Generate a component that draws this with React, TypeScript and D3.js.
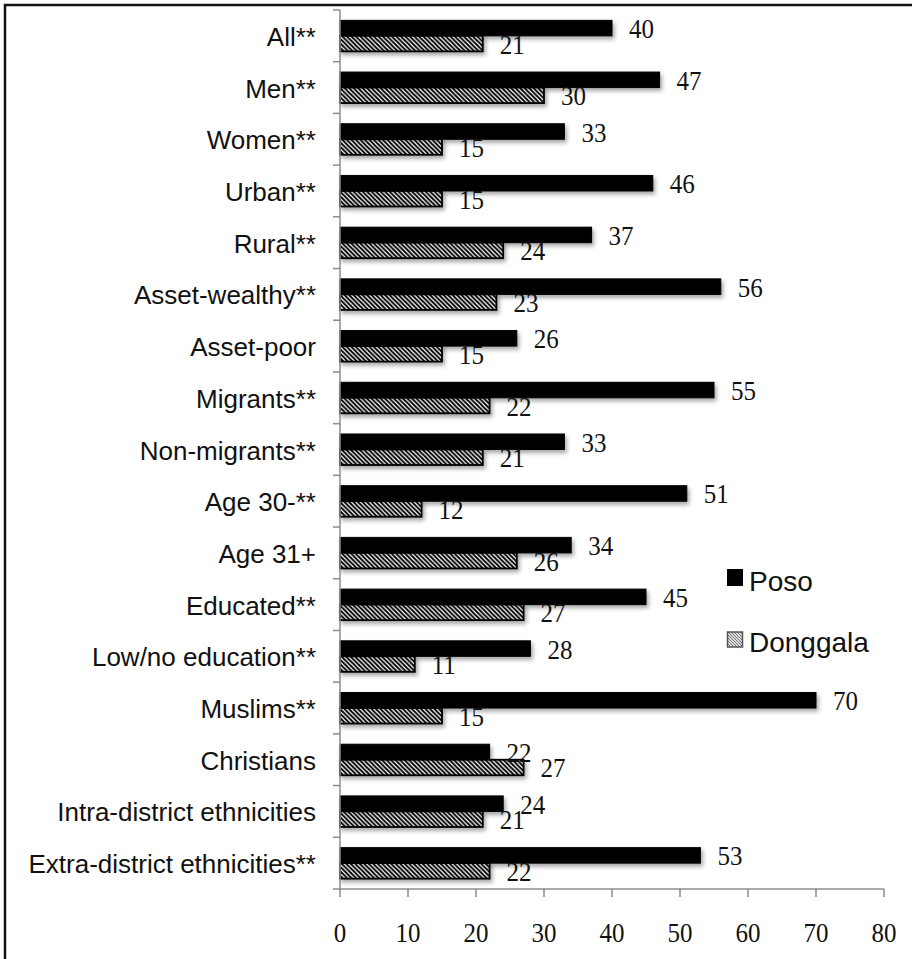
import React from "react";
import * as d3 from "d3";

const categories = [
  "All**", "Men**", "Women**", "Urban**", "Rural**", "Asset-wealthy**", "Asset-poor",
  "Migrants**", "Non-migrants**", "Age 30-**", "Age 31+", "Educated**", "Low/no education**",
  "Muslims**", "Christians", "Intra-district ethnicities", "Extra-district ethnicities**",
];
const poso = [40, 47, 33, 46, 37, 56, 26, 55, 33, 51, 34, 45, 28, 70, 22, 24, 53];
const donggala = [21, 30, 15, 15, 24, 23, 15, 22, 21, 12, 26, 27, 11, 15, 27, 21, 22];
const xTicks = [0, 10, 20, 30, 40, 50, 60, 70, 80];
const seriesNames = ["Poso", "Donggala"];

const W = 912;
const H = 959;
const X0 = 340;
const X1 = 884;
const Y0 = 10;
const Y1 = 889;

function SerifText({ x, y, anchor, children }: { x: number; y: number; anchor?: string; children: React.ReactNode }) {
  return (
    <text
      transform={`translate(${x},${y}) scale(1,1.12)`}
      textAnchor={anchor || "start"}
      fontFamily="'Liberation Serif', 'DejaVu Serif', serif"
      fontSize={25}
      fill="#111"
    >
      {children}
    </text>
  );
}

export default function App() {
  const x = d3.scaleLinear().domain([0, 80]).range([X0, X1]);
  const y = d3.scaleBand<string>().domain(categories).range([Y0, Y1]).paddingInner(0).paddingOuter(0);
  const bw = y.bandwidth();
  const barH = bw * 0.3;
  const groupTop = (c: string) => (y(c) as number) + (bw - 2 * barH) / 2;
  const sans = "'Liberation Sans', Arial, sans-serif";
  const axisGray = "#8c8c8c";

  return (
    <svg
      width={W}
      height={H}
      style={{ position: "absolute", left: 0, top: 0, background: "#fff" }}
    >
      <defs>
        <pattern id="hatch" patternUnits="userSpaceOnUse" width={4.5} height={4.5}>
          <rect width={4.5} height={4.5} fill="#fff" />
          <path d="M-1,-1 L5.5,5.5 M-1,3.5 L1,5.5 M3.5,-1 L5.5,1" stroke="#000" strokeWidth={1.9} />
        </pattern>
        <pattern id="hatchLegend" patternUnits="userSpaceOnUse" width={3} height={3}>
          <rect width={3} height={3} fill="#ddd" />
          <path d="M-1,-1 L4,4 M-1,2 L1,4 M2,-1 L4,1" stroke="#777" strokeWidth={1} />
        </pattern>
        <filter id="shadow" x="-5%" y="-30%" width="115%" height="180%">
          <feDropShadow dx={2} dy={3} stdDeviation={2} floodColor="#000" floodOpacity={0.35} />
        </filter>
      </defs>

      {/* frame */}
      <rect x={5} y={5} width={W + 20} height={H + 20} fill="none" stroke="#111" strokeWidth={2.5} />

      {/* bars */}
      {categories.map((c, i) => {
        const gt = groupTop(c);
        return (
          <g key={c}>
            <rect
              x={x(0)}
              y={gt}
              width={x(poso[i]) - x(0)}
              height={barH}
              fill="#000"
              stroke="#000"
              strokeWidth={1}
              filter="url(#shadow)"
            />
            <rect
              x={x(0)}
              y={gt + barH}
              width={x(donggala[i]) - x(0)}
              height={barH}
              fill="url(#hatch)"
              stroke="#000"
              strokeWidth={1.8}
              filter="url(#shadow)"
            />
          </g>
        );
      })}

      {/* value labels */}
      {categories.map((c, i) => {
        const gt = groupTop(c);
        return (
          <g key={"v" + c}>
            <SerifText x={x(poso[i]) + 17} y={gt + barH / 2 + 10}>{poso[i]}</SerifText>
            <SerifText x={x(donggala[i]) + 17} y={gt + barH * 1.5 + 10}>{donggala[i]}</SerifText>
          </g>
        );
      })}

      {/* y axis */}
      <line x1={X0} x2={X0} y1={Y0} y2={Y1} stroke={axisGray} strokeWidth={1.5} />
      {d3.range(categories.length + 1).map((k) => {
        const yy = Y0 + k * bw;
        return <line key={"yt" + k} x1={X0 - 7} x2={X0} y1={yy} y2={yy} stroke={axisGray} strokeWidth={1.5} />;
      })}
      {categories.map((c) => (
        <text
          key={"cl" + c}
          x={316}
          y={(y(c) as number) + bw / 2 + 10}
          textAnchor="end"
          fontFamily={sans}
          fontSize={26}
          fill="#111"
        >
          {c}
        </text>
      ))}

      {/* x axis */}
      <line x1={X0} x2={X1} y1={Y1} y2={Y1} stroke={axisGray} strokeWidth={1.5} />
      {xTicks.map((t) => (
        <g key={"xt" + t}>
          <line x1={x(t)} x2={x(t)} y1={Y1} y2={Y1 + 8} stroke={axisGray} strokeWidth={1.5} />
          <SerifText x={x(t)} y={942} anchor="middle">{t}</SerifText>
        </g>
      ))}

      {/* legend */}
      <rect x={727} y={569} width={16} height={17} fill="#000" />
      <text x={749} y={591} fontFamily={sans} fontSize={28} fill="#111">{seriesNames[0]}</text>
      <rect x={727.5} y={632} width={15} height={15} fill="url(#hatchLegend)" stroke="#555" strokeWidth={1.5} />
      <text x={749} y={652} fontFamily={sans} fontSize={28} fill="#111">{seriesNames[1]}</text>
    </svg>
  );
}
